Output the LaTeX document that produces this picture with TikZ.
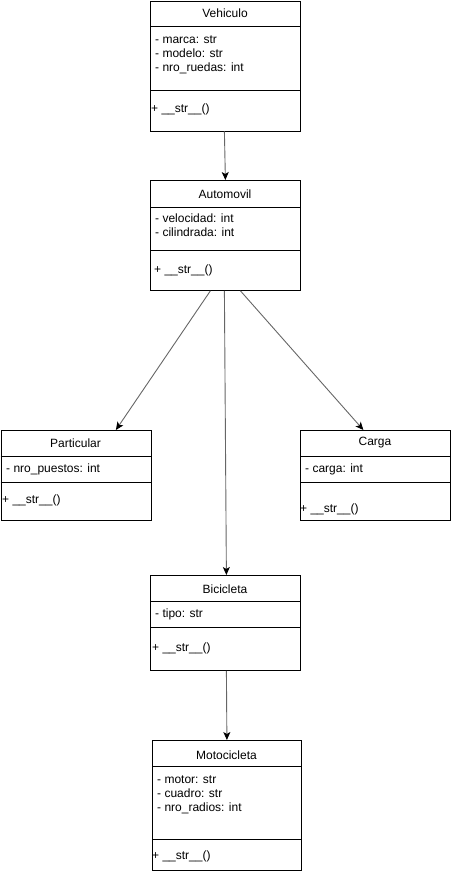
\documentclass[tikz,border=0pt]{standalone}
\usepackage{fontspec}
\setmainfont{Liberation Sans}
\usetikzlibrary{arrows.meta}

\begin{document}
\begin{tikzpicture}[x=1pt, y=-1pt,
  classbox/.style={draw, line width=0.8pt, inner sep=0pt, anchor=north west},
  classname/.style={inner sep=0pt, font=\fontsize{12}{14}\selectfont},
  member/.style={anchor=west, inner sep=0pt, text height=9pt, text depth=2pt, font=\fontsize{12}{14}\selectfont},
  inherit/.style={-{Stealth[length=8pt, width=7pt, inset=2pt, color=black]}, draw=black!60, line width=0.9pt}]
\useasboundingbox (0,0) rectangle (451,871);

% Vehiculo
\node[classbox, minimum width=150, minimum height=130] (veh) at (150,0.5) {};
\node[classname] (vehname) at (225,13) {Vehiculo};
\draw (veh.north west) ++(0,26) -- ++(150,0);
\draw (veh.north west) ++(0,90) -- ++(150,0);
\node[member] (vehmarca) at (155,40) {- marca: str};
\node[member] (vehmodelo) at (155,54) {- modelo: str};
\node[member] (vehruedas) at (155,68) {- nro\_ruedas: int};
\node[member] (vehstr) at (151,109) {+ \_\_str\_\_()};

% Automovil
\node[classbox, minimum width=150, minimum height=110] (auto) at (150,180) {};
\node[classname] (autoname) at (225,194) {Automovil};
\draw (auto.north west) ++(0,27) -- ++(150,0);
\draw (auto.north west) ++(0,70) -- ++(150,0);
\node[member] (autovel) at (155,219) {- velocidad: int};
\node[member] (autocil) at (155,233) {- cilindrada: int};
\node[member] (autostr) at (154,270) {+ \_\_str\_\_()};

% Particular
\node[classbox, minimum width=150, minimum height=90] (part) at (0.5,430) {};
\node[classname] (partname) at (75.5,443) {Particular};
\draw (part.north west) ++(0,26) -- ++(151,0);
\draw (part.north west) ++(0,52) -- ++(151,0);
\node[member] (partpuestos) at (6,469) {- nro\_puestos: int};
\node[member] (partstr) at (2,500) {+ \_\_str\_\_()};

% Carga
\node[classbox, minimum width=150, minimum height=90] (carga) at (300,430) {};
\node[classname] (carganame) at (375,443) {Carga};
\draw (carga.north west) ++(0,26) -- ++(150,0);
\draw (carga.north west) ++(0,52) -- ++(150,0);
\node[member] (cargacarga) at (305,469) {- carga: int};
\node[member] (cargastr) at (300,509) {+ \_\_str\_\_()};

% Bicicleta
\node[classbox, minimum width=150, minimum height=95] (bici) at (150,575) {};
\node[classname] (biciname) at (225,589) {Bicicleta};
\draw (bici.north west) ++(0,26) -- ++(150,0);
\draw (bici.north west) ++(0,52) -- ++(150,0);
\node[member] (bicitipo) at (155,614) {- tipo: str};
\node[member] (bicistr) at (152,648) {+ \_\_str\_\_()};

% Motocicleta
\node[classbox, minimum width=149, minimum height=130] (moto) at (152,740) {};
\node[classname] (motoname) at (226.5,755) {Motocicleta};
\draw (moto.north west) ++(0,26) -- ++(149,0);
\draw (moto.north west) ++(0,99) -- ++(149,0);
\node[member] (motomotor) at (157,780) {- motor: str};
\node[member] (motocuadro) at (157,794) {- cuadro: str};
\node[member] (motoradios) at (157,808) {- nro\_radios: int};
\node[member] (motostr) at (152,856) {+ \_\_str\_\_()};

% herencia
\draw[inherit] ([xshift=-1]veh.south) -- (auto.north);
\draw[inherit] ([xshift=-15]auto.south) -- ([xshift=40]part.north);
\draw[inherit] ([xshift=-1]auto.south) -- ([xshift=1]bici.north);
\draw[inherit] ([xshift=15]auto.south) -- ([xshift=-12]carga.north);
\draw[inherit] ([xshift=1]bici.south) -- (moto.north);
\end{tikzpicture}
\end{document}
